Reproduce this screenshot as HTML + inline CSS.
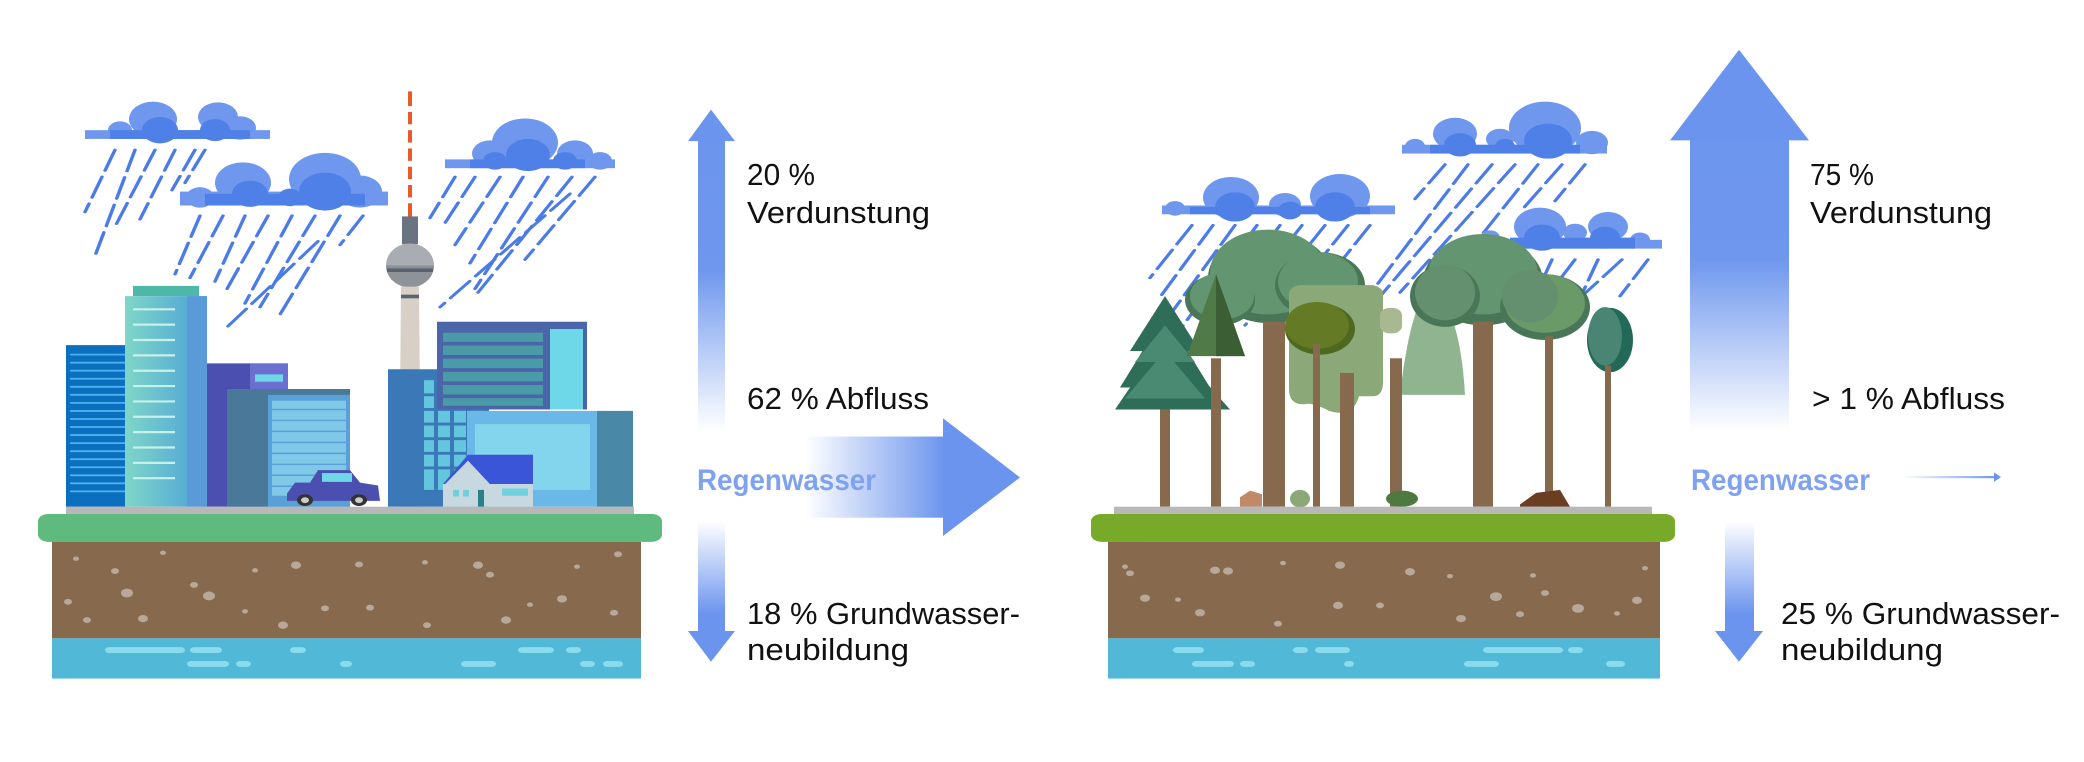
<!DOCTYPE html>
<html><head><meta charset="utf-8"><style>
html,body{margin:0;padding:0;background:#fff;width:2084px;height:762px;overflow:hidden}
svg{display:block}
text{font-family:"Liberation Sans",sans-serif}
</style></head><body>
<svg width="2084" height="762" viewBox="0 0 2084 762" xmlns="http://www.w3.org/2000/svg">
<defs>
<linearGradient id="gUpL" x1="0" y1="150" x2="0" y2="590" gradientUnits="userSpaceOnUse">
<stop offset="0" stop-color="#6b94ee"/><stop offset="0.5" stop-color="#6f97ee"/><stop offset="1" stop-color="#fff"/></linearGradient>
<linearGradient id="gUpR" x1="0" y1="68" x2="0" y2="590" gradientUnits="userSpaceOnUse">
<stop offset="0" stop-color="#6b94ee"/><stop offset="0.55" stop-color="#6f97ee"/><stop offset="1" stop-color="#fff"/></linearGradient>
<linearGradient id="gDn" x1="0" y1="713" x2="0" y2="840" gradientUnits="userSpaceOnUse">
<stop offset="0" stop-color="#fff"/><stop offset="1" stop-color="#6b94ee"/></linearGradient>
<linearGradient id="gH" x1="805" y1="0" x2="1000" y2="0" gradientUnits="userSpaceOnUse">
<stop offset="0" stop-color="#fff"/><stop offset="0.7" stop-color="#6f97ee"/><stop offset="1" stop-color="#6b94ee"/></linearGradient>
<linearGradient id="gSm" x1="1902" y1="0" x2="2000" y2="0" gradientUnits="userSpaceOnUse">
<stop offset="0" stop-color="#fff"/><stop offset="1" stop-color="#6b94ee"/></linearGradient>
<linearGradient id="tw" x1="0" y1="0" x2="1" y2="0"><stop offset="0" stop-color="#7fd6c8"/><stop offset="1" stop-color="#4aa0d8"/></linearGradient>
</defs>

<g transform="scale(1,0.7312)">
<!-- ===== LEFT SCENE ===== -->
<g stroke="#4a7be8" stroke-width="3.5" stroke-dasharray="30 9" fill="none" stroke-linecap="round">
<line x1="115" y1="205" x2="85" y2="290"/><line x1="135" y1="205" x2="95" y2="350"/><line x1="155" y1="205" x2="115" y2="310"/><line x1="175" y1="205" x2="140" y2="300"/><line x1="195" y1="205" x2="172" y2="260"/><line x1="205" y1="205" x2="185" y2="250"/>
<line x1="200" y1="295" x2="175" y2="375"/><line x1="223" y1="295" x2="190" y2="380"/><line x1="245" y1="295" x2="215" y2="385"/><line x1="268" y1="295" x2="225" y2="400"/><line x1="292" y1="295" x2="245" y2="415"/><line x1="315" y1="295" x2="260" y2="420"/><line x1="340" y1="295" x2="280" y2="430"/><line x1="363" y1="295" x2="340" y2="335"/><line x1="318" y1="330" x2="225" y2="450"/>
<line x1="455" y1="242" x2="430" y2="298"/><line x1="475" y1="242" x2="445" y2="305"/><line x1="500" y1="242" x2="455" y2="335"/><line x1="523" y1="242" x2="470" y2="360"/><line x1="548" y1="242" x2="475" y2="395"/><line x1="572" y1="242" x2="478" y2="400"/><line x1="595" y1="242" x2="525" y2="355"/><line x1="570" y1="265" x2="440" y2="420"/>
</g>
<g>
<g fill="#6f97ee"><circle cx="153" cy="163" r="24"/><circle cx="218" cy="160" r="20"/><circle cx="120" cy="178" r="12"/><circle cx="240" cy="175" r="16"/><rect x="85" y="178" width="185" height="12"/></g>
<g fill="#4f80e8"><circle cx="160" cy="178" r="18"/><circle cx="215" cy="178" r="15"/><rect x="110" y="178" width="140" height="12"/></g>
<g fill="#6f97ee"><circle cx="325" cy="245" r="36"/><circle cx="243" cy="250" r="28"/><circle cx="200" cy="270" r="14"/><circle cx="360" cy="262" r="22"/><rect x="180" y="262" width="208" height="19"/></g>
<g fill="#4f80e8"><circle cx="325" cy="262" r="26"/><circle cx="250" cy="265" r="18"/><circle cx="290" cy="270" r="12"/><rect x="205" y="265" width="160" height="16"/></g>
<g fill="#6f97ee"><circle cx="525" cy="195" r="33"/><circle cx="490" cy="210" r="18"/><circle cx="575" cy="210" r="18"/><circle cx="600" cy="220" r="12"/><rect x="445" y="218" width="170" height="12"/></g>
<g fill="#4f80e8"><circle cx="528" cy="212" r="22"/><circle cx="495" cy="220" r="12"/><circle cx="565" cy="220" r="12"/><rect x="470" y="218" width="115" height="12"/></g>
</g>
<rect x="408" y="125" width="4" height="172" fill="#e85a2a"/>
<g fill="#fff"><rect x="408" y="145" width="4" height="8"/><rect x="408" y="170" width="4" height="8"/><rect x="408" y="195" width="4" height="8"/><rect x="408" y="220" width="4" height="8"/><rect x="408" y="245" width="4" height="8"/><rect x="408" y="270" width="4" height="8"/></g>
<rect x="402" y="296" width="16" height="38" fill="#6a7380"/>
<ellipse cx="410" cy="363" rx="24" ry="30" fill="#a9acb2"/>
<path d="M386 363 a24 30 0 0 0 48 0z" fill="#8e9299"/>
<rect x="387" y="367" width="46" height="5" fill="#5a6270"/>
<polygon points="401,392 419,392 421,693 399,693" fill="#d8d0c6"/>
<rect x="401" y="403" width="18" height="5" fill="#5a6270"/>
<rect x="66" y="472" width="62" height="221" fill="#0a6fbf"/>
<g stroke="#4cb3ee" stroke-width="2.5"><line x1="70" y1="485" x2="126" y2="485"/><line x1="70" y1="496" x2="126" y2="496"/><line x1="70" y1="507" x2="126" y2="507"/><line x1="70" y1="518" x2="126" y2="518"/><line x1="70" y1="529" x2="126" y2="529"/><line x1="70" y1="540" x2="126" y2="540"/><line x1="70" y1="551" x2="126" y2="551"/><line x1="70" y1="562" x2="126" y2="562"/><line x1="70" y1="573" x2="126" y2="573"/><line x1="70" y1="584" x2="126" y2="584"/><line x1="70" y1="595" x2="126" y2="595"/><line x1="70" y1="606" x2="126" y2="606"/><line x1="70" y1="617" x2="126" y2="617"/><line x1="70" y1="628" x2="126" y2="628"/><line x1="70" y1="639" x2="126" y2="639"/><line x1="70" y1="650" x2="126" y2="650"/><line x1="70" y1="661" x2="126" y2="661"/><line x1="70" y1="672" x2="126" y2="672"/></g>
<rect x="133" y="391" width="66" height="14" fill="#4db8a8"/>
<rect x="125" y="405" width="82" height="288" fill="url(#tw)"/>
<rect x="187" y="405" width="20" height="288" fill="#5a9ad8"/>
<g stroke="#c8f0ea" stroke-width="3"><line x1="133" y1="423" x2="175" y2="423"/><line x1="133" y1="444" x2="175" y2="444"/><line x1="133" y1="465" x2="175" y2="465"/><line x1="133" y1="486" x2="175" y2="486"/><line x1="133" y1="507" x2="175" y2="507"/><line x1="133" y1="528" x2="175" y2="528"/><line x1="133" y1="549" x2="175" y2="549"/><line x1="133" y1="570" x2="175" y2="570"/><line x1="133" y1="591" x2="175" y2="591"/><line x1="133" y1="612" x2="175" y2="612"/><line x1="133" y1="633" x2="175" y2="633"/><line x1="133" y1="654" x2="175" y2="654"/></g>
<rect x="207" y="497" width="81" height="196" fill="#4a4fb0"/>
<rect x="250" y="497" width="38" height="40" fill="#6a6fd0"/>
<rect x="255" y="512" width="28" height="10" fill="#6fd8e8"/>
<rect x="227" y="532" width="123" height="161" fill="#4a7898"/>
<rect x="268" y="540" width="82" height="153" fill="#5aa0d8"/>
<rect x="272" y="548" width="74" height="130" fill="#8fd8f0" opacity="0.7"/>
<g stroke="#5aa0d8" stroke-width="2"><line x1="272" y1="560" x2="346" y2="560"/><line x1="272" y1="575" x2="346" y2="575"/><line x1="272" y1="590" x2="346" y2="590"/><line x1="272" y1="605" x2="346" y2="605"/><line x1="272" y1="620" x2="346" y2="620"/><line x1="272" y1="635" x2="346" y2="635"/><line x1="272" y1="650" x2="346" y2="650"/><line x1="272" y1="665" x2="346" y2="665"/></g>
<rect x="388" y="505" width="101" height="188" fill="#3a78b8"/>
<rect x="424" y="520" width="60" height="150" fill="#6fd8e8" opacity="0.8"/>
<g stroke="#3a78b8" stroke-width="4"><line x1="422" y1="540" x2="486" y2="540"/><line x1="422" y1="560" x2="486" y2="560"/><line x1="422" y1="580" x2="486" y2="580"/><line x1="422" y1="600" x2="486" y2="600"/><line x1="422" y1="620" x2="486" y2="620"/><line x1="422" y1="640" x2="486" y2="640"/><line x1="436" y1="520" x2="436" y2="670"/><line x1="452" y1="520" x2="452" y2="670"/><line x1="468" y1="520" x2="468" y2="670"/></g>
<rect x="437" y="440" width="150" height="120" fill="#4a66a8"/>
<rect x="443" y="455" width="100" height="100" fill="#4a9aa8"/>
<g stroke="#4a66a8" stroke-width="5"><line x1="443" y1="470" x2="543" y2="470"/><line x1="443" y1="488" x2="543" y2="488"/><line x1="443" y1="506" x2="543" y2="506"/><line x1="443" y1="524" x2="543" y2="524"/><line x1="443" y1="542" x2="543" y2="542"/></g>
<rect x="550" y="450" width="33" height="110" fill="#6fd8e8"/>
<rect x="467" y="562" width="166" height="131" fill="#6ab8e8"/>
<rect x="597" y="562" width="36" height="131" fill="#4a88a8"/>
<rect x="475" y="580" width="115" height="90" fill="#8fe0f0" opacity="0.7"/>
<polygon points="443,662 468,622 533,622 533,662" fill="#3a55d8"/>
<polygon points="443,665 468,630 492,665" fill="#c8d8e0"/>
<rect x="443" y="662" width="90" height="31" fill="#c8d8e0"/>
<rect x="478" y="670" width="6" height="23" fill="#2a8088"/>
<g fill="#6fd0e0"><rect x="453" y="670" width="6" height="9"/><rect x="463" y="670" width="6" height="9"/><rect x="502" y="668" width="26" height="10"/></g>
<path d="M287 675 L295 660 L310 660 L318 643 L350 643 L360 660 L378 664 L380 685 L287 685 Z" fill="#4a4fb0"/>
<rect x="322" y="647" width="30" height="12" fill="#6fd8e8"/>
<circle cx="305" cy="684" r="8" fill="#333"/><circle cx="305" cy="684" r="4" fill="#ccc"/>
<circle cx="359" cy="684" r="8" fill="#333"/><circle cx="359" cy="684" r="4" fill="#ccc"/>
<rect x="66" y="693" width="568" height="10" fill="#b8b8b8"/>
<rect x="38" y="703" width="624" height="38" rx="10" fill="#5fba7d"/>
<rect x="52" y="741" width="589" height="132" fill="#876a4e"/>
<rect x="52" y="873" width="589" height="55" fill="#52b8d8"/>
<g fill="#b8a89a"><circle cx="76" cy="764" r="3"/><circle cx="115" cy="781" r="4"/><circle cx="163" cy="756" r="3"/><circle cx="127" cy="811" r="6"/><circle cx="194" cy="800" r="4"/><circle cx="209" cy="815" r="6"/><circle cx="68" cy="823" r="4"/><circle cx="87" cy="848" r="4"/><circle cx="143" cy="846" r="5"/><circle cx="245" cy="836" r="3"/><circle cx="255" cy="780" r="3"/><circle cx="296" cy="773" r="5"/><circle cx="283" cy="855" r="5"/><circle cx="325" cy="832" r="4"/><circle cx="359" cy="772" r="4"/><circle cx="370" cy="831" r="4"/><circle cx="427" cy="855" r="4"/><circle cx="425" cy="769" r="3"/><circle cx="478" cy="773" r="5"/><circle cx="490" cy="786" r="4"/><circle cx="506" cy="848" r="5"/><circle cx="530" cy="827" r="3"/><circle cx="562" cy="819" r="5"/><circle cx="577" cy="775" r="3"/><circle cx="618" cy="758" r="4"/><circle cx="614" cy="838" r="4"/></g>
<g fill="#8adcec"><rect x="105" y="885" width="80" height="8" rx="4"/><rect x="190" y="885" width="32" height="8" rx="4"/><rect x="290" y="885" width="16" height="8" rx="4"/><rect x="518" y="885" width="36" height="8" rx="4"/><rect x="566" y="885" width="15" height="8" rx="4"/><rect x="187" y="904" width="42" height="8" rx="4"/><rect x="236" y="904" width="15" height="8" rx="4"/><rect x="340" y="904" width="12" height="8" rx="4"/><rect x="461" y="904" width="35" height="8" rx="4"/><rect x="580" y="904" width="15" height="8" rx="4"/><rect x="603" y="904" width="20" height="8" rx="4"/></g>

<rect x="698" y="192" width="27" height="398" fill="url(#gUpL)"/>
<polygon points="711,150 735,193 688,193" fill="#6b94ee"/>
<rect x="698" y="713" width="27" height="151" fill="url(#gDn)"/>
<polygon points="688,863 735,863 711,905" fill="#6b94ee"/>
<rect x="805" y="597" width="140" height="111" fill="url(#gH)"/>
<polygon points="943,572 1020,653 943,733" fill="#6b94ee"/>

<!-- ===== RIGHT SCENE ===== -->
<g stroke="#4a7be8" stroke-width="3.5" stroke-dasharray="30 9" fill="none" stroke-linecap="round">
<line x1="1192" y1="308" x2="1150" y2="380"/><line x1="1213" y1="308" x2="1158" y2="410"/><line x1="1235" y1="308" x2="1165" y2="440"/><line x1="1257" y1="308" x2="1175" y2="460"/><line x1="1280" y1="308" x2="1185" y2="485"/><line x1="1302" y1="308" x2="1210" y2="470"/><line x1="1325" y1="308" x2="1245" y2="445"/><line x1="1348" y1="308" x2="1300" y2="390"/><line x1="1370" y1="308" x2="1325" y2="385"/>
<line x1="1445" y1="225" x2="1415" y2="272"/><line x1="1468" y1="225" x2="1360" y2="420"/><line x1="1492" y1="225" x2="1340" y2="470"/><line x1="1515" y1="225" x2="1400" y2="400"/><line x1="1538" y1="225" x2="1465" y2="350"/><line x1="1562" y1="225" x2="1520" y2="290"/><line x1="1585" y1="225" x2="1555" y2="275"/>
<line x1="1482" y1="355" x2="1470" y2="378"/><line x1="1505" y1="355" x2="1475" y2="410"/><line x1="1528" y1="355" x2="1500" y2="408"/><line x1="1552" y1="355" x2="1530" y2="420"/><line x1="1575" y1="355" x2="1530" y2="435"/><line x1="1598" y1="355" x2="1565" y2="452"/><line x1="1622" y1="355" x2="1570" y2="420"/><line x1="1648" y1="355" x2="1620" y2="405"/>
</g>
<g>
<g fill="#6f97ee"><circle cx="1231" cy="270" r="28"/><circle cx="1340" cy="268" r="30"/><circle cx="1175" cy="285" r="10"/><circle cx="1285" cy="280" r="16"/><rect x="1162" y="281" width="233" height="12"/></g>
<g fill="#4f80e8"><circle cx="1235" cy="283" r="20"/><circle cx="1335" cy="283" r="20"/><circle cx="1290" cy="288" r="12"/><rect x="1190" y="283" width="180" height="10"/></g>
<g fill="#6f97ee"><circle cx="1545" cy="175" r="36"/><circle cx="1455" cy="183" r="22"/><circle cx="1415" cy="200" r="10"/><circle cx="1592" cy="195" r="16"/><circle cx="1500" cy="190" r="14"/><rect x="1402" y="198" width="205" height="12"/></g>
<g fill="#4f80e8"><circle cx="1548" cy="193" r="24"/><circle cx="1460" cy="198" r="16"/><circle cx="1505" cy="200" r="10"/><rect x="1430" y="198" width="150" height="12"/></g>
<g fill="#6f97ee"><circle cx="1540" cy="310" r="26"/><circle cx="1608" cy="310" r="20"/><circle cx="1490" cy="325" r="10"/><circle cx="1575" cy="318" r="12"/><circle cx="1640" cy="328" r="10"/><rect x="1470" y="328" width="192" height="12"/></g>
<g fill="#4f80e8"><circle cx="1542" cy="325" r="18"/><circle cx="1605" cy="325" r="15"/><rect x="1510" y="325" width="125" height="15"/></g>
</g>
<g>
<rect x="1160" y="500" width="10" height="193" fill="#876a4e"/>
<polygon points="1165,405 1200,480 1130,480" fill="#2e6e58"/>
<polygon points="1165,430 1210,530 1120,530" fill="#2e6e58"/>
<polygon points="1165,460 1230,560 1115,560" fill="#2e6e58"/>
<polygon points="1165,445 1195,495 1135,495" fill="#4a8a72"/>
<polygon points="1165,480 1205,545 1125,545" fill="#4a8a72"/>
<circle cx="1270" cy="380" r="62" fill="#4a7658"/>
<circle cx="1268" cy="372" r="58" fill="#639670"/>
<circle cx="1320" cy="390" r="45" fill="#4a7658"/>
<circle cx="1318" cy="385" r="40" fill="#639670"/>
<circle cx="1220" cy="410" r="35" fill="#4a7658"/>
<circle cx="1222" cy="405" r="32" fill="#639670"/>
<rect x="1263" y="440" width="22" height="253" fill="#876a4e"/>
<rect x="1211" y="490" width="10" height="203" fill="#876a4e"/>
<polygon points="1216,375 1245,487 1187,487" fill="#507a48"/>
<polygon points="1216,375 1245,487 1216,487" fill="#3c5e34"/>
<path d="M1400 540 Q1410 420 1430 390 Q1460 420 1465 540 Z" fill="#90b490"/>
<path d="M1331 390 h40 a12 12 0 0 1 12 12 v120 q0 20 -10 20 h-14 q-6 30 -30 20 q-10 -8 -20 -10 q-20 5 -20 -20 v-130 a12 12 0 0 1 12 -12z" fill="#8aa878"/>
<rect x="1380" y="421" width="22" height="35" rx="10" fill="#a8b890"/>
<rect x="1390" y="490" width="12" height="203" fill="#876a4e"/>
<circle cx="1320" cy="450" r="35" fill="#4e6820"/>
<circle cx="1317" cy="445" r="32" fill="#647a24"/>
<rect x="1313" y="470" width="7" height="223" fill="#876a4e"/>
<rect x="1340" y="510" width="14" height="183" fill="#876a4e"/>
<circle cx="1483" cy="385" r="60" fill="#4a7658"/>
<circle cx="1483" cy="375" r="55" fill="#639670"/>
<circle cx="1545" cy="420" r="45" fill="#4a7658"/>
<circle cx="1545" cy="415" r="40" fill="#6a9a68"/>
<ellipse cx="1445" cy="405" rx="35" ry="42" fill="#4a7658"/>
<ellipse cx="1445" cy="400" rx="30" ry="38" fill="#649070"/>
<ellipse cx="1530" cy="405" rx="28" ry="36" fill="#649070"/>
<rect x="1473" y="440" width="20" height="253" fill="#876a4e"/>
<rect x="1545" y="460" width="8" height="233" fill="#876a4e"/>
<ellipse cx="1610" cy="465" rx="23" ry="44" fill="#236858"/>
<ellipse cx="1605" cy="460" rx="17" ry="40" fill="#4a8472"/>
<rect x="1605" y="500" width="6" height="193" fill="#876a4e"/>
<ellipse cx="1402" cy="682" rx="16" ry="11" fill="#4e7a42"/>
<ellipse cx="1300" cy="682" rx="10" ry="12" fill="#8aa878"/>
<polygon points="1240,680 1250,671 1262,676 1262,693 1240,693" fill="#c08a68"/>
<polygon points="1520,690 1536,674 1560,670 1570,693 1520,693" fill="#6a3e22"/>
</g>
<rect x="1114" y="693" width="538" height="10" fill="#b8b8b8"/>
<rect x="1091" y="703" width="584" height="38" rx="10" fill="#78aa2a"/>
<rect x="1108" y="741" width="552" height="132" fill="#876a4e"/>
<rect x="1108" y="873" width="552" height="55" fill="#52b8d8"/>
<g fill="#b8a89a"><circle cx="1125" cy="775" r="3"/><circle cx="1130" cy="784" r="4"/><circle cx="1215" cy="780" r="5"/><circle cx="1228" cy="781" r="5"/><circle cx="1283" cy="770" r="3"/><circle cx="1340" cy="773" r="5"/><circle cx="1410" cy="782" r="5"/><circle cx="1450" cy="788" r="3"/><circle cx="1533" cy="787" r="3"/><circle cx="1545" cy="811" r="4"/><circle cx="1645" cy="777" r="3"/><circle cx="1145" cy="818" r="5"/><circle cx="1178" cy="820" r="3"/><circle cx="1200" cy="838" r="5"/><circle cx="1278" cy="853" r="4"/><circle cx="1338" cy="828" r="5"/><circle cx="1380" cy="828" r="4"/><circle cx="1461" cy="846" r="5"/><circle cx="1496" cy="816" r="6"/><circle cx="1520" cy="840" r="4"/><circle cx="1578" cy="832" r="6"/><circle cx="1617" cy="839" r="3"/><circle cx="1637" cy="821" r="5"/></g>
<g fill="#8adcec"><rect x="1173" y="885" width="31" height="8" rx="4"/><rect x="1293" y="885" width="15" height="8" rx="4"/><rect x="1315" y="885" width="35" height="8" rx="4"/><rect x="1483" y="885" width="80" height="8" rx="4"/><rect x="1568" y="885" width="15" height="8" rx="4"/><rect x="1192" y="904" width="42" height="8" rx="4"/><rect x="1240" y="904" width="15" height="8" rx="4"/><rect x="1344" y="904" width="10" height="8" rx="4"/><rect x="1464" y="904" width="35" height="8" rx="4"/><rect x="1606" y="904" width="19" height="8" rx="4"/></g>

<rect x="1690" y="190" width="99" height="400" fill="url(#gUpR)"/>
<polygon points="1739,68 1809,192 1670,192" fill="#6b94ee"/>
<rect x="1725" y="713" width="29" height="151" fill="url(#gDn)"/>
<polygon points="1715,863 1763,863 1739,905" fill="#6b94ee"/>
<rect x="1902" y="651" width="94" height="3" fill="url(#gSm)"/>
<polygon points="1994,646 2001,652.5 1994,659" fill="#6b94ee"/>
</g>

<g fill="#111" font-size="31">
<text x="747" y="185" textLength="68" lengthAdjust="spacingAndGlyphs">20 %</text>
<text x="747" y="223" textLength="183" lengthAdjust="spacingAndGlyphs">Verdunstung</text>
<text x="747" y="409" textLength="182" lengthAdjust="spacingAndGlyphs">62 % Abfluss</text>
<text x="747" y="624" textLength="273" lengthAdjust="spacingAndGlyphs">18 % Grundwasser-</text>
<text x="747" y="660" textLength="162" lengthAdjust="spacingAndGlyphs">neubildung</text>
<text x="1810" y="185" textLength="64" lengthAdjust="spacingAndGlyphs">75 %</text>
<text x="1810" y="223" textLength="182" lengthAdjust="spacingAndGlyphs">Verdunstung</text>
<text x="1812" y="409" textLength="193" lengthAdjust="spacingAndGlyphs">&gt;  1 % Abfluss</text>
<text x="1781" y="624" textLength="279" lengthAdjust="spacingAndGlyphs">25 % Grundwasser-</text>
<text x="1781" y="660" textLength="162" lengthAdjust="spacingAndGlyphs">neubildung</text>
</g>
<g fill="#7fa2f0" font-size="30" font-weight="bold">
<text x="697" y="490" textLength="179" lengthAdjust="spacingAndGlyphs">Regenwasser</text>
<text x="1691" y="490" textLength="179" lengthAdjust="spacingAndGlyphs">Regenwasser</text>
</g>
</svg>
</body></html>
